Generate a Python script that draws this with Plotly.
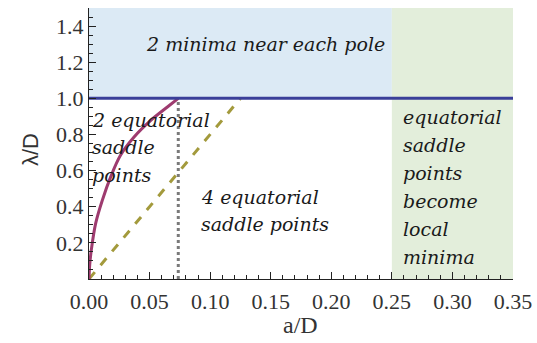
import plotly.graph_objects as go

# Data
curve_a = [0.0, 0.0006, 0.0019, 0.0055, 0.011, 0.0179, 0.026, 0.0372, 0.051, 0.0647, 0.0737]
curve_lam = [0.0, 0.08, 0.16, 0.308, 0.436, 0.565, 0.685, 0.786, 0.878, 0.952, 1.0]
dash_a = [0.0, 0.125]
dash_lam = [0.0, 1.0]
dot_a = [0.0737, 0.0737]
dot_lam = [0.0, 1.0]
hline_a = [0.0, 0.35]
hline_lam = [1.0, 1.0]
blue_region_a = [0.0, 0.25]
blue_region_lam = [1.0, 1.5]
green_region_a = [0.25, 0.35]
green_region_lam = [0.0, 1.5]
x_ticks = [0.0, 0.05, 0.10, 0.15, 0.20, 0.25, 0.30, 0.35]
x_ticklabels = ["0.00", "0.05", "0.10", "0.15", "0.20", "0.25", "0.30", "0.35"]
y_ticks = [0.2, 0.4, 0.6, 0.8, 1.0, 1.2, 1.4]
y_ticklabels = ["0.2", "0.4", "0.6", "0.8", "1.0", "1.2", "1.4"]

# Region labels
label_top = "2 minima near each pole"
label_left = ["2 equatorial", "saddle", "points"]
label_mid = ["4 equatorial", "saddle points"]
label_right = ["equatorial", "saddle", "points", "become", "local", "minima"]

serif = "Liberation Serif"

fig = go.Figure()

fig.add_shape(type="rect", xref="x", yref="y",
              x0=blue_region_a[0], x1=blue_region_a[1], y0=blue_region_lam[0], y1=blue_region_lam[1],
              fillcolor="#dceaf5", line_width=0, layer="below")
fig.add_shape(type="rect", xref="x", yref="y",
              x0=green_region_a[0], x1=green_region_a[1], y0=green_region_lam[0], y1=green_region_lam[1],
              fillcolor="#e3eedb", line_width=0, layer="below")

fig.add_trace(go.Scatter(x=dot_a, y=dot_lam, mode="lines",
                         line=dict(color="#7a7a7a", width=3, dash="dot"), hoverinfo="skip"))
fig.add_trace(go.Scatter(x=dash_a, y=dash_lam, mode="lines",
                         line=dict(color="#a39a3c", width=3, dash="dash"), hoverinfo="skip"))
fig.add_trace(go.Scatter(x=curve_a, y=curve_lam, mode="lines", line_shape="spline",
                         line=dict(color="#9e3b6f", width=3), hoverinfo="skip"))
fig.add_trace(go.Scatter(x=hline_a, y=hline_lam, mode="lines",
                         line=dict(color="#3a3f99", width=3), hoverinfo="skip"))

ann_font = dict(family="DejaVu Serif", size=19, color="#1a1a1a", style="italic")


def add_lines(lines, x, y0, step):
    for i, t in enumerate(lines):
        fig.add_annotation(x=x, y=y0 - i * step, xref="x", yref="y", text=t,
                           showarrow=False, font=ann_font, xanchor="left", yanchor="middle",
                           borderpad=0)


fig.add_annotation(x=0.1453, y=1.30, xref="x", yref="y", text=label_top,
                   showarrow=False, font=ann_font, xanchor="center", yanchor="middle")
add_lines(label_left, 0.002, 0.88, 0.152)
add_lines(label_mid, 0.0915, 0.455, 0.152)
add_lines(label_right, 0.258, 0.895, 0.155)

fig.add_annotation(x=-0.139, y=0.476, xref="paper", yref="paper", text="λ/D",
                   showarrow=False, textangle=-90, xanchor="center", yanchor="middle",
                   font=dict(family="Liberation Sans", size=22, color="#333"))
fig.add_annotation(x=0.498, y=-0.17, xref="paper", yref="paper", text="a/D",
                   showarrow=False, xanchor="center", yanchor="middle",
                   font=dict(family=serif, size=24, color="#333"))

fig.update_layout(
    width=537, height=343,
    margin=dict(l=89, r=24, t=8, b=64),
    paper_bgcolor="white", plot_bgcolor="white",
    showlegend=False,
    font=dict(family=serif, size=22, color="#333333"),
    xaxis=dict(range=[0, 0.35], tickvals=x_ticks, ticktext=x_ticklabels,
               ticks="inside", ticklen=7, tickwidth=1, tickcolor="#222",
               minor=dict(dtick=0.01, tick0=0, ticks="inside", ticklen=4, tickcolor="#222"),
               showline=True, linecolor="#222", linewidth=1, showgrid=False, zeroline=False,
               automargin=False, ticklabelstandoff=3,
               tickfont=dict(family=serif, size=22, color="#333")),
    yaxis=dict(range=[0, 1.5], tickvals=y_ticks, ticktext=y_ticklabels,
               ticks="inside", ticklen=7, tickwidth=1, tickcolor="#222",
               minor=dict(dtick=0.05, tick0=0, ticks="inside", ticklen=4, tickcolor="#222"),
               showline=True, linecolor="#222", linewidth=1, showgrid=False, zeroline=False,
               automargin=False,
               tickfont=dict(family=serif, size=22, color="#333")),
)

fig.write_html("out.html", config={"displayModeBar": False},
               post_script="document.body.style.margin='0';")
